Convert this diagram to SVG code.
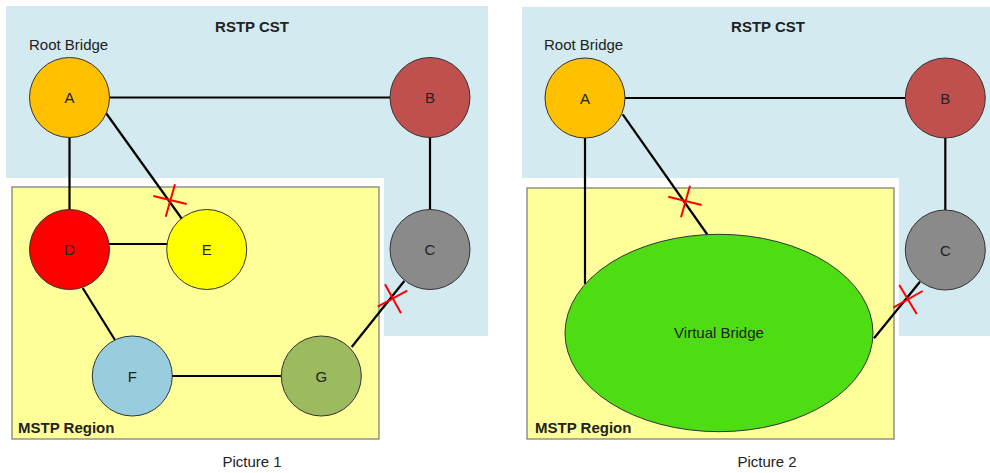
<svg xmlns="http://www.w3.org/2000/svg" width="990" height="473" viewBox="0 0 990 473">
<style>
text{font-family:"Liberation Sans",Arial,sans-serif;font-size:15px;fill:#222}
.b{font-weight:bold}
.m{text-anchor:middle}
.bg{fill:#D3EAF0}
.rg{fill:#FFFF99;stroke:#777;stroke-width:1.2}
.n{stroke:#333;stroke-width:1}
.l{stroke:#000;stroke-width:2.2;fill:none}
.x{stroke:#FF0000;stroke-width:2;fill:none}
</style>
<rect width="990" height="473" fill="#fff"/>
<!-- Picture 1 backgrounds -->
<polygon class="bg" points="6,6 488,6 488,336 384,336 384,178 6,178"/>
<rect class="rg" x="12" y="187" width="367" height="252"/>
<text class="b m" x="252" y="32">RSTP CST</text>
<text x="29" y="50">Root Bridge</text>
<text class="b" x="18" y="433">MSTP Region</text>
<text class="m" x="252" y="467">Picture 1</text>
<!-- Picture 2 backgrounds -->
<polygon class="bg" points="522,7 990,7 990,336 899,336 899,178 522,178"/>
<rect class="rg" x="527" y="188" width="367" height="251"/>
<text class="b m" x="768" y="32">RSTP CST</text>
<text x="544" y="50">Root Bridge</text>
<text class="b" x="535" y="433">MSTP Region</text>
<text class="m" x="767" y="467">Picture 2</text>
<g id="connectors">
<line class="l" x1="109" y1="97.5" x2="390" y2="97.5"/>
<line class="l" x1="69.5" y1="137" x2="69.5" y2="210"/>
<line class="l" x1="106" y1="113" x2="182" y2="219"/>
<line class="l" x1="109" y1="244" x2="167" y2="244"/>
<line class="l" x1="82.7" y1="288" x2="115" y2="340"/>
<line class="l" x1="172" y1="376" x2="281" y2="376"/>
<line class="l" x1="430" y1="137" x2="430" y2="210"/>
<line class="l" x1="351.7" y1="347" x2="404.3" y2="281"/>
<path class="x" d="M153.3,196 L186.7,204 M175,184.3 L165.7,216.7"/>
<path class="x" d="M377.7,306.7 L407.3,290.7 M385,284.3 L401,313.3"/>
<line class="l" x1="625" y1="98" x2="905" y2="98"/>
<line class="l" x1="585" y1="138" x2="585" y2="284"/>
<line class="l" x1="622.7" y1="114.3" x2="707.3" y2="234.5"/>
<line class="l" x1="945.3" y1="138" x2="945.3" y2="210"/>
<line class="l" x1="874" y1="338.3" x2="920" y2="281.7"/>
<path class="x" d="M668.3,196.7 L701.7,205 M690,185.7 L681,217.3"/>
<path class="x" d="M893.3,307.7 L922.7,291 M899.3,285 L916.7,314"/>
</g>
<g id="p1A"><circle class="n" cx="69.5" cy="97.5" r="40" fill="#FFC000"/><text class="m" x="69.5" y="103">A</text></g>
<g id="p1B"><circle class="n" cx="430" cy="97.5" r="40" fill="#C0504D"/><text class="m" x="430" y="103">B</text></g>
<g id="p1C"><circle class="n" cx="430" cy="249.5" r="40" fill="#8A8A8A"/><text class="m" x="430" y="255">C</text></g>
<g id="p1D"><circle class="n" cx="69.5" cy="249.5" r="40" fill="#FF0000"/><text class="m" x="69.5" y="255">D</text></g>
<g id="p1E"><circle class="n" cx="206.7" cy="249.5" r="40" fill="#FFFF00"/><text class="m" x="206.7" y="255">E</text></g>
<g id="p1F"><circle class="n" cx="132.3" cy="376" r="40" fill="#97CDDC"/><text class="m" x="132.3" y="381.5">F</text></g>
<g id="p1G"><circle class="n" cx="321.3" cy="376" r="40" fill="#9BBB5E"/><text class="m" x="321.3" y="381.5">G</text></g>
<g id="p2A"><circle class="n" cx="585" cy="98" r="40" fill="#FFC000"/><text class="m" x="585" y="103.5">A</text></g>
<g id="p2B"><circle class="n" cx="945.3" cy="98" r="40" fill="#C0504D"/><text class="m" x="945.3" y="103.5">B</text></g>
<g id="p2C"><circle class="n" cx="945.3" cy="250" r="40" fill="#8A8A8A"/><text class="m" x="945.3" y="255.5">C</text></g>
<g id="p2V"><ellipse class="n" cx="719" cy="333" rx="154" ry="98.7" fill="#4EDD12"/><text class="m" x="719" y="338">Virtual Bridge</text></g>
</svg>
